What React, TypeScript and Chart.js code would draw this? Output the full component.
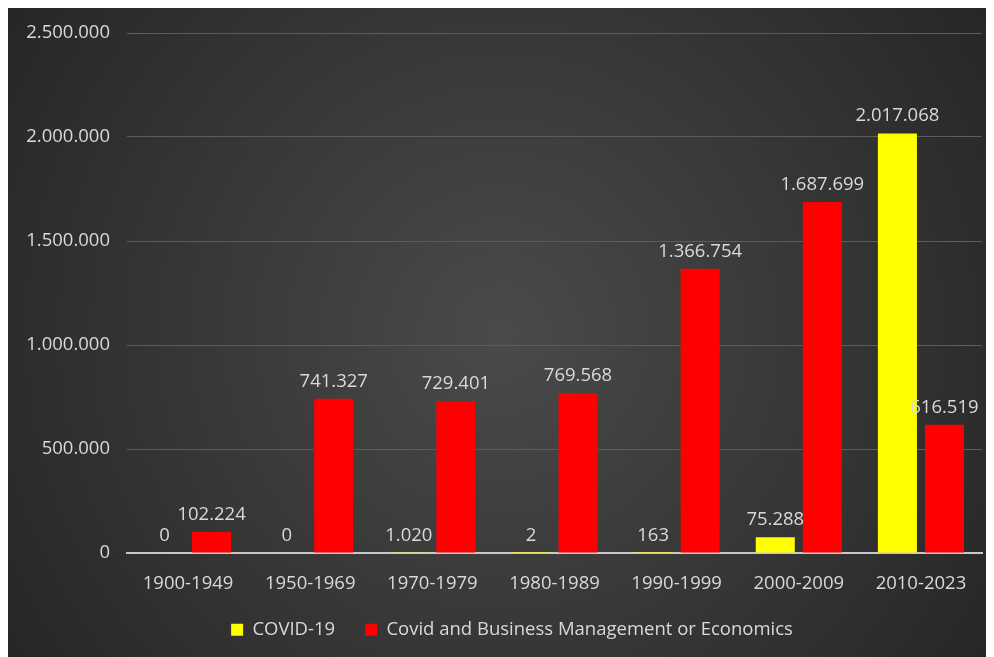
import React, { useEffect, useRef } from "react";
import { Chart, registerables } from "chart.js";

Chart.register(...registerables);

const categories = [
  "1900-1949",
  "1950-1969",
  "1970-1979",
  "1980-1989",
  "1990-1999",
  "2000-2009",
  "2010-2023",
];
const covidValues = [0, 0, 1020, 2, 163, 75288, 2017068];
const businessValues = [102224, 741327, 729401, 769568, 1366754, 1687699, 616519];
const seriesNames = ["COVID-19", "Covid and Business Management or Economics"];
const yMax = 2500000;
const yStep = 500000;

const FONT = "'Open Sans', 'Noto Sans', sans-serif";
const TEXT = "#d9d9d9";

const fmt = (v: number) => String(Math.round(v)).replace(/\B(?=(\d{3})+(?!\d))/g, ".");

const bgPlugin = {
  id: "bgGradient",
  beforeDraw(chart: any) {
    const { ctx, width, height } = chart;
    ctx.save();
    const g = ctx.createRadialGradient(
      width * 0.5, height * 0.5, 0,
      width * 0.5, height * 0.5, Math.sqrt(width * width + height * height) * 0.5
    );
    g.addColorStop(0, "#4a4a4a");
    g.addColorStop(1, "#262626");
    ctx.fillStyle = g;
    ctx.fillRect(0, 0, width, height);
    ctx.restore();
  },
};

const legendShift = {
  id: "legendShift",
  afterLayout(chart: any) {
    const l = chart.legend;
    if (l) {
      l.left += 17;
      l.right += 17;
    }
  },
};

const labelPlugin = {
  id: "valueLabels",
  afterDatasetsDraw(chart: any) {
    const { ctx } = chart;
    ctx.save();
    ctx.font = `18.5px ${FONT}`;
    ctx.fillStyle = TEXT;
    ctx.textAlign = "center";
    ctx.textBaseline = "alphabetic";
    chart.data.datasets.forEach((ds: any, di: number) => {
      const meta = chart.getDatasetMeta(di);
      meta.data.forEach((el: any, i: number) => {
        ctx.fillText(fmt(ds.data[i]), el.x, el.y - 12);
      });
    });
    ctx.restore();
  },
};

export default function App() {
  const ref = useRef<HTMLCanvasElement | null>(null);

  useEffect(() => {
    document.documentElement.style.overflow = "hidden";
    document.body.style.overflow = "hidden";
    if (!ref.current) return;
    const chart = new Chart(ref.current, {
      type: "bar",
      data: {
        labels: categories,
        datasets: [
          {
            label: seriesNames[0],
            data: covidValues,
            backgroundColor: "#ffff00",
            categoryPercentage: 0.77,
            barPercentage: 0.83,
          },
          {
            label: seriesNames[1],
            data: businessValues,
            backgroundColor: "#ff0000",
            categoryPercentage: 0.77,
            barPercentage: 0.83,
          },
        ],
      },
      options: {
        responsive: false,
        animation: false,
        layout: { padding: { left: 0, right: 12, top: 25, bottom: 8 } },
        plugins: {
          legend: {
            position: "bottom",
            labels: {
              color: TEXT,
              font: { family: FONT, size: 18.5 },
              boxWidth: 12,
              boxHeight: 12,
              padding: 30,
            },
          },
          tooltip: { enabled: false },
        },
        scales: {
          x: {
            afterFit(scale: any) {
              scale.height = 37.5;
            },
            grid: { display: false, drawTicks: false },
            border: { display: true, color: "#c8c8c8", width: 2 },
            ticks: {
              color: TEXT,
              font: { family: FONT, size: 18.5 },
              padding: 20,
              maxRotation: 0,
              autoSkip: false,
            },
          },
          y: {
            min: 0,
            max: yMax,
            afterFit(scale: any) {
              scale.width = 119;
              scale.paddingTop = 0;
              scale.paddingBottom = 0;
            },
            grid: { color: "#5c5c5c", lineWidth: 1, drawTicks: false },
            border: { display: false },
            ticks: {
              stepSize: yStep,
              color: TEXT,
              font: { family: FONT, size: 18.5 },
              padding: 17,
              callback: (v: any) => fmt(Number(v)),
            },
          },
        },
      },
      plugins: [bgPlugin, legendShift, labelPlugin],
    });
    return () => chart.destroy();
  }, []);

  return <canvas ref={ref} width={986} height={649} style={{ display: "block" }} />;
}
